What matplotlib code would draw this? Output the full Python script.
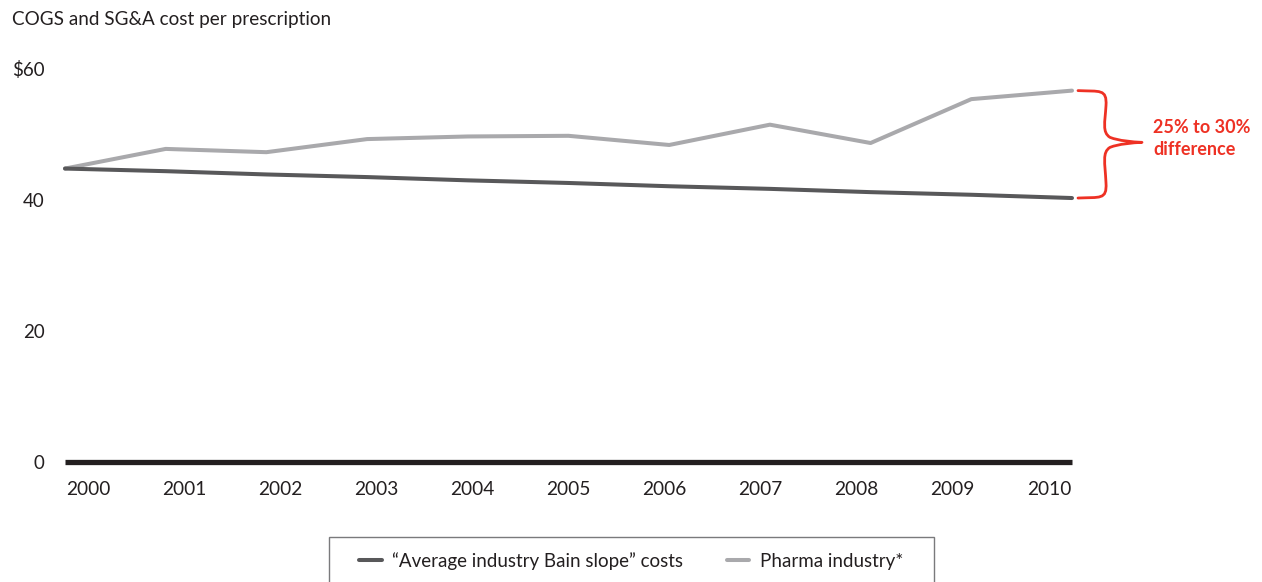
import numpy as np
import matplotlib
matplotlib.use("Agg")
import matplotlib.pyplot as plt
from matplotlib.path import Path
from matplotlib.patches import PathPatch, Rectangle
from matplotlib.lines import Line2D

plt.rcParams['font.family'] = ['Lato', 'DejaVu Sans']

years = [2000, 2001, 2002, 2003, 2004, 2005, 2006, 2007, 2008, 2009, 2010]
bain_slope = [44.8, 44.4, 43.9, 43.5, 43.0, 42.6, 42.1, 41.7, 41.2, 40.8, 40.3]
pharma = [44.8, 47.8, 47.3, 49.3, 49.7, 49.8, 48.4, 51.5, 48.7, 55.4, 56.7]
y_ticks = [0, 20, 40, 60]
y_labels = ["0", "20", "40", "$60"]
series_names = ["\u201cAverage industry Bain slope\u201d costs", "Pharma industry*"]
title = "COGS and SG&A cost per prescription"
note = "25% to 30%\ndifference"

DARK = "#58585a"
GRAY = "#a9a9ac"
RED = "#ee3124"
TEXT = "#231f20"

W, H = 1262, 582
fig = plt.figure(figsize=(W / 100, H / 100), dpi=100)
ax = fig.add_axes([65 / W, (H - 462) / H, (1072 - 65) / W, (462 - 69) / H])
ax.set_xlim(years[0], years[-1])
ax.set_ylim(0, 60)

ax.plot(years, bain_slope, color=DARK, lw=2.9, solid_capstyle='round',
        solid_joinstyle='round', clip_on=False, zorder=3)
ax.plot(years, pharma, color=GRAY, lw=2.9, solid_capstyle='round',
        solid_joinstyle='round', clip_on=False, zorder=2)
ax.axhline(0, color=TEXT, lw=3.8, solid_capstyle='butt', clip_on=False, zorder=4)

for s in ax.spines.values():
    s.set_visible(False)

ax.set_yticks(y_ticks)
ax.set_yticklabels(y_labels)
ax.tick_params(axis='y', length=0, pad=14.5, labelsize=13.5, labelcolor=TEXT)

# year labels are spread so the first starts at the line start and the last ends at it
half = 0.23
label_pos = np.linspace(years[0] + half, years[-1] - half, len(years))
ax.set_xticks(label_pos)
ax.set_xticklabels([str(y) for y in years])
ax.tick_params(axis='x', length=0, pad=13.5, labelsize=13.8, labelcolor=TEXT)

fig.text(12 / W, 1 - 20 / H, title, fontsize=13.6, color=TEXT, va='center', ha='left')

# curly brace spanning the 2010 gap
px = 1.0 / 100.7  # one pixel in years
x0 = years[-1]
top, bot = pharma[-1], bain_slope[-1]
mid = (top + bot) / 2 + 0.3
ypx = 1.0 / 6.55
verts = [
    (x0 + 6 * px, top),
    (x0 + 28 * px, top - 1 * ypx), (x0 + 35 * px, top + 2 * ypx), (x0 + 34 * px, top - 15 * ypx),
    (x0 + 33 * px, mid + 20 * ypx), (x0 + 30 * px, mid + 10 * ypx), (x0 + 38 * px, mid + 5 * ypx),
    (x0 + 47 * px, mid + 1.5 * ypx), (x0 + 60 * px, mid + 0.5 * ypx), (x0 + 70 * px, mid),
    (x0 + 60 * px, mid - 0.5 * ypx), (x0 + 47 * px, mid - 1.5 * ypx), (x0 + 38 * px, mid - 5 * ypx),
    (x0 + 30 * px, mid - 10 * ypx), (x0 + 33 * px, mid - 20 * ypx), (x0 + 34 * px, bot + 15 * ypx),
    (x0 + 35 * px, bot - 2 * ypx), (x0 + 28 * px, bot + 1 * ypx), (x0 + 6 * px, bot),
]
codes = [Path.MOVETO] + [Path.CURVE4] * (len(verts) - 1)
brace = PathPatch(Path(verts, codes), facecolor='none', edgecolor=RED, lw=2.0,
                  capstyle='round', joinstyle='round', clip_on=False, zorder=5)
ax.add_patch(brace)
ax.text(x0 + 81 * px, mid + 4 * ypx, note, color=RED, fontsize=13, fontweight='bold',
        ha='left', va='center', linespacing=1.4, clip_on=False)

# legend frame running off the bottom edge
fig.patches.append(Rectangle((329 / W, -10 / H), (934 - 329) / W, (582 - 537 + 10) / H,
                             transform=fig.transFigure, facecolor='white',
                             edgecolor="#7a7a7c", lw=1.0, zorder=1))

handles = [Line2D([], [], color=DARK, lw=2.9, solid_capstyle='round'),
           Line2D([], [], color=GRAY, lw=2.9, solid_capstyle='round')]
leg = fig.legend(handles, series_names, loc='center left',
                 bbox_to_anchor=(359 / W, 1 - 561 / H), ncol=2, frameon=False,
                 fontsize=13.5, handlelength=1.2, handletextpad=0.55,
                 columnspacing=2.35, borderpad=0, borderaxespad=0)
leg.set_zorder(2)
for t in leg.get_texts():
    t.set_color(TEXT)

fig.savefig("out.png", dpi=100)
